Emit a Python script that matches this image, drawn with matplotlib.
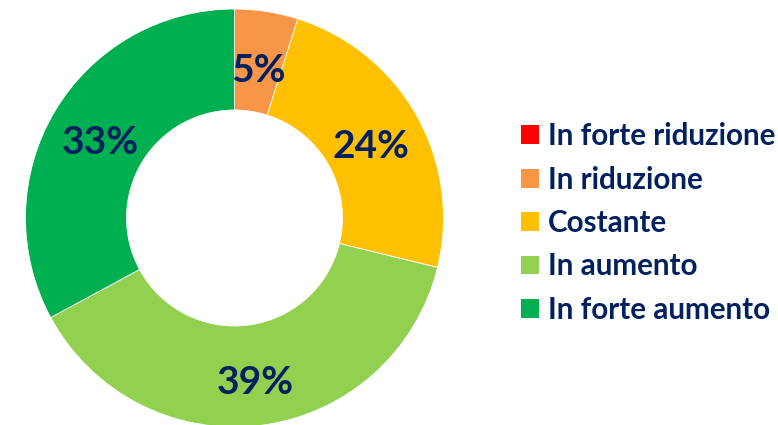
import matplotlib
matplotlib.use("Agg")
import matplotlib.pyplot as plt
from matplotlib.patches import Patch
import numpy as np

categories = ["In forte riduzione", "In riduzione", "Costante", "In aumento", "In forte aumento"]
values = [0.0, 4.9, 23.9, 38.3, 32.9]
pct_labels = ["", "5%", "24%", "39%", "33%"]
colors = ["#FF0000", "#F79646", "#FFC000", "#92D050", "#00B050"]
text_color = "#002060"

plt.rcParams['font.family'] = ['Lato', 'DejaVu Sans']

W, H = 778, 425
fig = plt.figure(figsize=(W / 100, H / 100), dpi=100)
ax = fig.add_axes([0, 0, 1, 1])
ax.axis('off')

cx, cy, R = 234.5, H - 218, 209
ax.pie(values, colors=colors, startangle=90, counterclock=False,
       center=(cx, cy), radius=R,
       wedgeprops=dict(width=R - 108, edgecolor='white', linewidth=0.6))
ax.set_xlim(0, W)
ax.set_ylim(0, H)
ax.set_aspect('equal')

label_r = [0, 0.74, 0.75, 0.77, 0.75]
cum = 0
for v, lab, lr in zip(values, pct_labels, label_r):
    mid = 90 - (cum + v / 2) / sum(values) * 360
    cum += v
    if not lab:
        continue
    x = cx + R * lr * np.cos(np.radians(mid))
    y = cy + R * lr * np.sin(np.radians(mid)) - 5
    ax.text(x, y, lab, ha='center', va='center', fontsize=28, fontweight='bold',
            color=text_color)

handles = [Patch(facecolor=c, edgecolor='none') for c in colors]
leg = fig.legend(handles, categories, loc='center left', bbox_to_anchor=(521 / W, 1 - 223 / H),
                 frameon=False, fontsize=21.3, labelspacing=0.52, handlelength=0.6,
                 handleheight=0.6, handletextpad=0.3, borderaxespad=0, borderpad=0)
for t in leg.get_texts():
    t.set_color(text_color)
    t.set_fontweight('bold')

fig.savefig("out.png", dpi=100)
